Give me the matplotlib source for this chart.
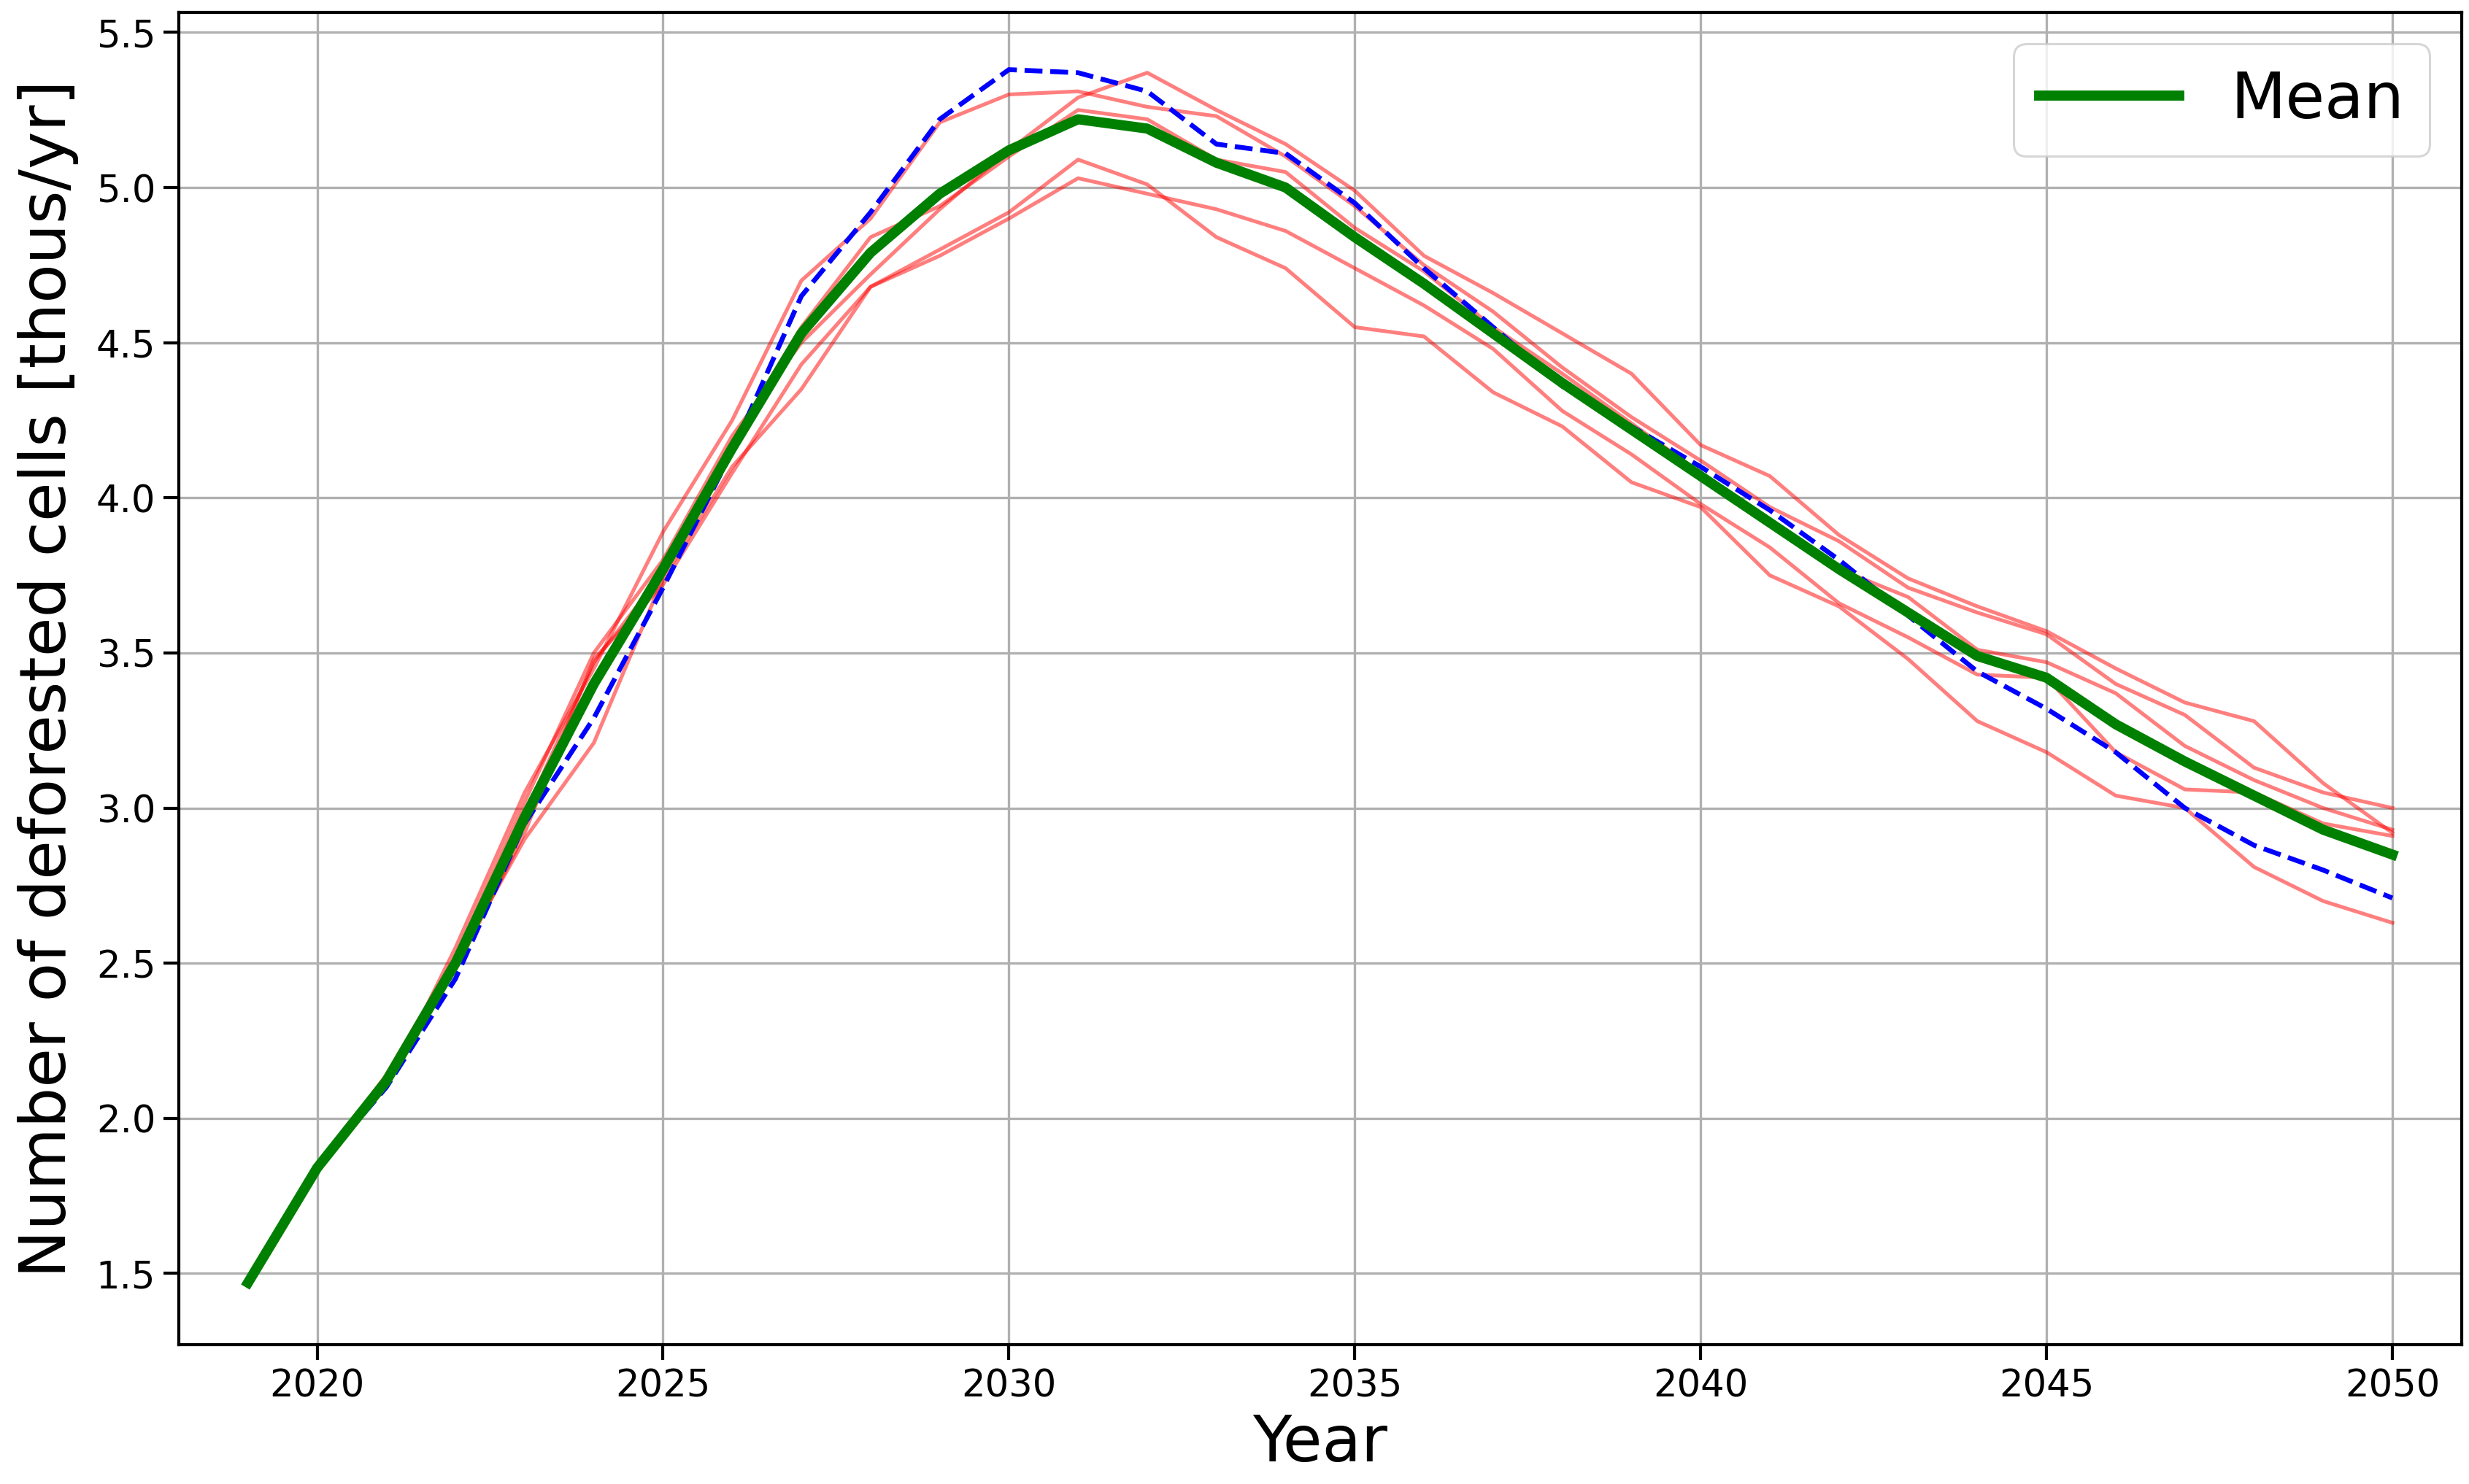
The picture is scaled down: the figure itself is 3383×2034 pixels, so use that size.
import numpy as np
import matplotlib
matplotlib.use("Agg")
import matplotlib.pyplot as plt

# years of the simulation
years = list(range(2019, 2051))

# mean of all runs [thous/yr]
mean_vals = [1.47, 1.84, 2.12, 2.50, 2.97, 3.40, 3.77, 4.16, 4.53, 4.79,
             4.98, 5.12, 5.22, 5.19, 5.08, 5.00, 4.84, 4.69, 4.53, 4.37,
             4.22, 4.07, 3.92, 3.77, 3.63, 3.49, 3.42, 3.27, 3.15, 3.04,
             2.93, 2.85]

# reference run (blue dashed)
ref_run = [1.47, 1.84, 2.10, 2.45, 2.95, 3.29, 3.71, 4.15, 4.65, 4.92,
           5.22, 5.38, 5.37, 5.31, 5.14, 5.11, 4.95, 4.74, 4.55, 4.36,
           4.23, 4.10, 3.96, 3.80, 3.62, 3.44, 3.32, 3.18, 3.00, 2.88,
           2.80, 2.71]

# individual runs (red)
run1 = [1.47, 1.84, 2.10, 2.55, 3.05, 3.45, 3.89, 4.25, 4.70, 4.90,
        5.21, 5.30, 5.31, 5.26, 5.23, 5.10, 4.94, 4.75, 4.60, 4.42,
        4.26, 4.12, 3.97, 3.86, 3.71, 3.63, 3.56, 3.40, 3.30, 3.13,
        3.05, 3.00]
run2 = [1.47, 1.84, 2.14, 2.52, 3.02, 3.50, 3.80, 4.20, 4.50, 4.72,
        4.93, 5.12, 5.29, 5.37, 5.25, 5.14, 4.99, 4.78, 4.66, 4.53,
        4.40, 4.17, 4.07, 3.88, 3.74, 3.65, 3.57, 3.45, 3.34, 3.28,
        3.08, 2.92]
run3 = [1.47, 1.84, 2.12, 2.50, 2.98, 3.47, 3.76, 4.18, 4.55, 4.84,
        4.94, 5.10, 5.25, 5.22, 5.09, 5.05, 4.87, 4.73, 4.55, 4.40,
        4.24, 4.08, 3.93, 3.77, 3.68, 3.51, 3.47, 3.37, 3.20, 3.09,
        3.00, 2.93]
run4 = [1.47, 1.84, 2.13, 2.48, 2.92, 3.48, 3.72, 4.08, 4.43, 4.68,
        4.80, 4.92, 5.09, 5.01, 4.84, 4.74, 4.55, 4.52, 4.34, 4.23,
        4.05, 3.97, 3.75, 3.65, 3.48, 3.28, 3.18, 3.04, 3.00, 2.81,
        2.70, 2.63]
run5 = [1.47, 1.84, 2.13, 2.50, 2.90, 3.21, 3.74, 4.10, 4.35, 4.68,
        4.78, 4.90, 5.03, 4.98, 4.93, 4.86, 4.74, 4.62, 4.48, 4.28,
        4.14, 3.98, 3.84, 3.66, 3.55, 3.43, 3.42, 3.18, 3.06, 3.05,
        2.95, 2.91]
runs = [run1, run2, run3, run4, run5]

fig = plt.figure(figsize=(15.6, 9.38), dpi=216.9)
ax = fig.add_axes([0.0724, 0.0938, 0.9244, 0.8977])

for r in runs:
    ax.plot(years, r, color="red", alpha=0.5, lw=1.7)
ax.plot(years, ref_run, color="blue", ls="--", lw=2.2)
ax.plot(years, mean_vals, color="green", lw=4.6, label="Mean")

ax.set_xlim(2018, 2051)
ax.set_ylim(1.27, 5.565)
ax.set_xticks([2020, 2025, 2030, 2035, 2040, 2045, 2050])
ax.set_yticks(np.arange(1.5, 5.51, 0.5))
ax.grid(True, color="#b0b0b0", lw=1.1)
ax.tick_params(labelsize=17, length=7, width=1.4)
for s in ax.spines.values():
    s.set_linewidth(1.4)

ax.set_xlabel("Year", fontsize=29, labelpad=4)
ax.set_ylabel("Number of deforested cells [thous/yr]", fontsize=29, labelpad=8)
ax.legend(loc="upper right", fontsize=29, handlelength=2.2)

fig.savefig("out.png", dpi=216.9)
